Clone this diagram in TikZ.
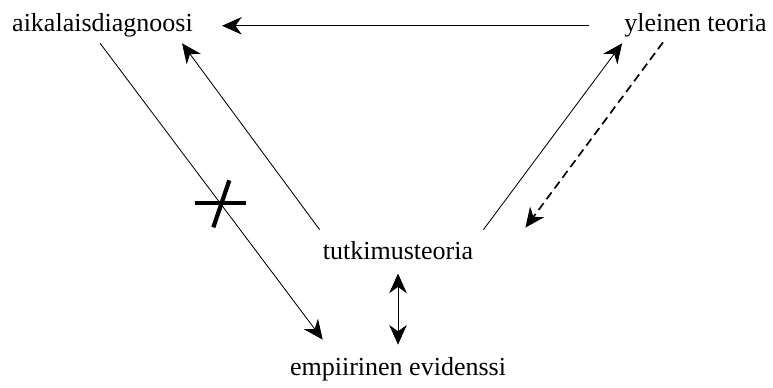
\documentclass[tikz,border=0pt]{standalone}
\usepackage{fontspec}
\setmainfont{Liberation Serif}
\usetikzlibrary{arrows.meta}
\begin{document}
\begin{tikzpicture}[font=\fontsize{18.5}{22}\selectfont,
  every node/.style={inner sep=0pt},
  karki/.tip={Stealth[length=14pt,width=12.5pt,inset=4.5pt]},
  nuoli/.style={line width=0.6pt,-karki}]
\useasboundingbox (0,0) rectangle (19.325,9.675);
\node[anchor=base] (aika) at (2.5625,8.875) {aikalaisdiagnoosi};
\node[anchor=base] (yleinen) at (17.3875,8.875) {yleinen teoria};
\node[anchor=base] (tutk) at (9.95,3.175) {tutkimusteoria};
\node[anchor=base] (emp) at (9.95,0.3) {empiirinen evidenssi};
\draw[nuoli] ([xshift=-0.875cm]yleinen.west) -- ([xshift=0.725cm]aika.east);
\draw[nuoli] ([shift={(-0.06,-0.135)}]aika.south) --
  coordinate[pos=0.54] (risti)
  ([shift={(0.825,0.425)}]emp.north west);
\draw[line width=3pt] ([xshift=-0.64cm]risti) -- ([xshift=0.64cm]risti);
\draw[line width=3pt] ([shift={(0.225,0.575)}]risti) -- ([shift={(-0.175,-0.6)}]risti);
\draw[nuoli] ([shift={(-0.075,0.3)}]tutk.north west) -- ([shift={(-0.275,-0.135)}]aika.south east);
\draw[nuoli] ([shift={(0.25,0.3)}]tutk.north east) -- ([shift={(-0.05,-0.135)}]yleinen.south west);
\draw[nuoli,line width=1.2pt,dash pattern=on 6pt off 3.5pt] ([shift={(-0.8125,-0.11)}]yleinen.south) -- ([shift={(1.3,0.35)}]tutk.north east);
\draw[nuoli,karki-karki] ([yshift=-0.325cm]tutk.south) -- ([yshift=0.3cm]emp.north);
\end{tikzpicture}
\end{document}
